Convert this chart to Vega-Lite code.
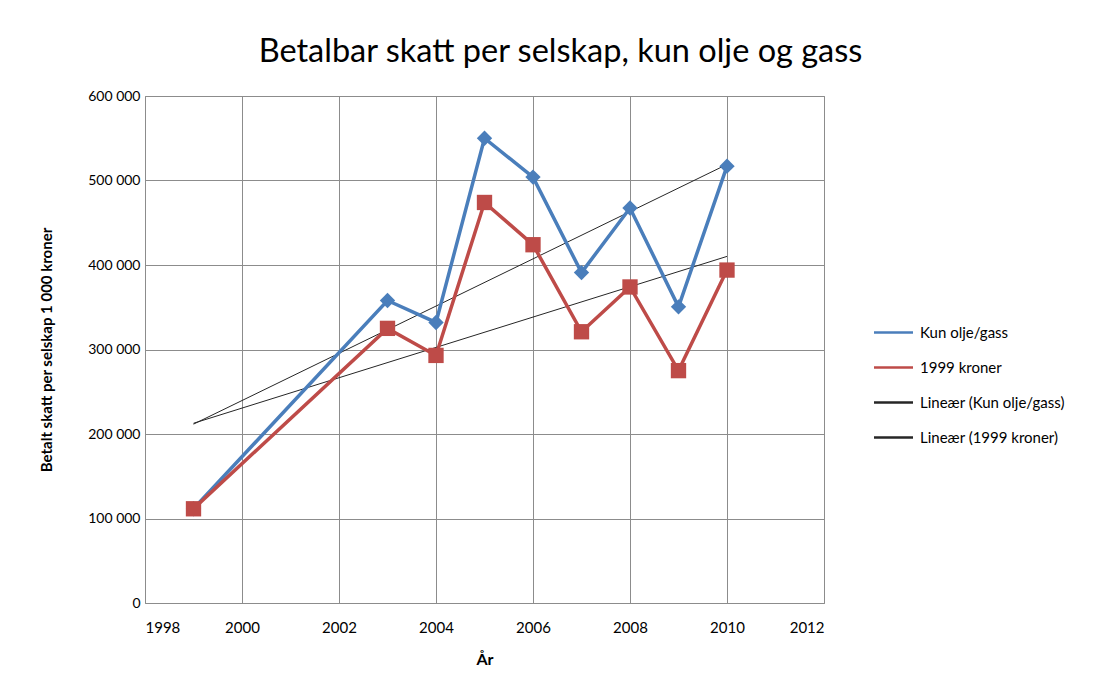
{
  "$schema": "https://vega.github.io/schema/vega-lite/v6.json",
  "width": 679,
  "height": 507,
  "autosize": {"type": "none"},
  "padding": {"left": 145, "top": 96, "right": 277, "bottom": 83},
  "background": "white",
  "config": {
    "font": "Lato",
    "locale": {"number": {"decimal": ",", "thousands": "\u00a0", "grouping": [3], "currency": ["", " kr"]}},
    "view": {"stroke": "#8c8c8c", "strokeWidth": 1},
    "axis": {"gridColor": "#8c8c8c", "gridWidth": 1, "domain": false, "ticks": false, "labelFont": "Lato", "labelFontSize": 14, "labelColor": "#000", "titleFont": "Lato", "titleColor": "#000", "titleFontSize": 15, "titleFontWeight": "bold"},
    "axisX": {"labelFontSize": 15, "titleFontSize": 16},
    "legend": {"orient": "none", "legendX": 737, "legendY": 225, "padding": 0, "symbolType": "M-1.95,0H1.95", "symbolSize": 400, "symbolStrokeWidth": 2.5, "rowPadding": 15, "labelOffset": 15, "labelFont": "Lato", "labelFontSize": 15, "labelColor": "#000", "labelLimit": 300, "symbolOpacity": 1}
  },
  "title": {"text": "Betalbar skatt per selskap, kun olje og gass", "font": "Lato", "fontSize": 32.5, "fontWeight": "normal", "color": "#000", "anchor": "middle", "dx": 76, "dy": 39, "offset": 27, "baseline": "bottom"},
  "data": {"values": [
    {"year": 1999, "series": "Kun olje/gass", "value": 111500},
    {"year": 2003, "series": "Kun olje/gass", "value": 358000},
    {"year": 2004, "series": "Kun olje/gass", "value": 332000},
    {"year": 2005, "series": "Kun olje/gass", "value": 550000},
    {"year": 2006, "series": "Kun olje/gass", "value": 504000},
    {"year": 2007, "series": "Kun olje/gass", "value": 391000},
    {"year": 2008, "series": "Kun olje/gass", "value": 467500},
    {"year": 2009, "series": "Kun olje/gass", "value": 350500},
    {"year": 2010, "series": "Kun olje/gass", "value": 517000},
    {"year": 1999, "series": "1999 kroner", "value": 111500},
    {"year": 2003, "series": "1999 kroner", "value": 325000},
    {"year": 2004, "series": "1999 kroner", "value": 293000},
    {"year": 2005, "series": "1999 kroner", "value": 474000},
    {"year": 2006, "series": "1999 kroner", "value": 424000},
    {"year": 2007, "series": "1999 kroner", "value": 321000},
    {"year": 2008, "series": "1999 kroner", "value": 374000},
    {"year": 2009, "series": "1999 kroner", "value": 275000},
    {"year": 2010, "series": "1999 kroner", "value": 394000}
  ]},
  "encoding": {
    "x": {"field": "year", "type": "quantitative", "scale": {"domain": [1998, 2012], "nice": false, "zero": false},
      "axis": {"values": [1998, 2000, 2002, 2004, 2006, 2008, 2010, 2012], "format": "d", "labelPadding": 17, "title": "År", "titlePadding": 16}},
    "y": {"field": "value", "type": "quantitative", "scale": {"domain": [0, 600000], "nice": false},
      "axis": {"values": [0, 100000, 200000, 300000, 400000, 500000, 600000], "format": ",d", "labelPadding": 5, "title": "Betalt skatt per selskap 1 000 kroner", "titlePadding": 33}}
  },
  "layer": [
    {
      "transform": [{"filter": "datum.series === 'Kun olje/gass'"}, {"regression": "value", "on": "year"}],
      "mark": {"type": "line", "strokeWidth": 1},
      "encoding": {"color": {"datum": "Lineær (Kun olje/gass)"}}
    },
    {
      "transform": [{"filter": "datum.series === '1999 kroner'"}, {"regression": "value", "on": "year"}],
      "mark": {"type": "line", "strokeWidth": 1},
      "encoding": {"color": {"datum": "Lineær (1999 kroner)"}}
    },
    {
      "mark": {"type": "line", "strokeWidth": 3.5},
      "encoding": {
        "color": {"field": "series", "type": "nominal",
          "scale": {"domain": ["Kun olje/gass", "1999 kroner", "Lineær (Kun olje/gass)", "Lineær (1999 kroner)"], "range": ["#4a7ebb", "#be4b48", "#262626", "#262626"]},
          "legend": {"title": null, "orient": "none", "legendX": 737, "legendY": 225}}
      }
    },
    {
      "mark": {"type": "point", "filled": true, "opacity": 1, "size": 235, "strokeWidth": 0},
      "encoding": {
        "fill": {"field": "series", "type": "nominal", "scale": {"domain": ["Kun olje/gass", "1999 kroner"], "range": ["#4a7ebb", "#be4b48"]}, "legend": null},
        "shape": {"field": "series", "type": "nominal", "scale": {"domain": ["Kun olje/gass", "1999 kroner"], "range": ["diamond", "square"]}, "legend": null}
      }
    }
  ],
  "resolve": {"scale": {"color": "shared"}}
}
